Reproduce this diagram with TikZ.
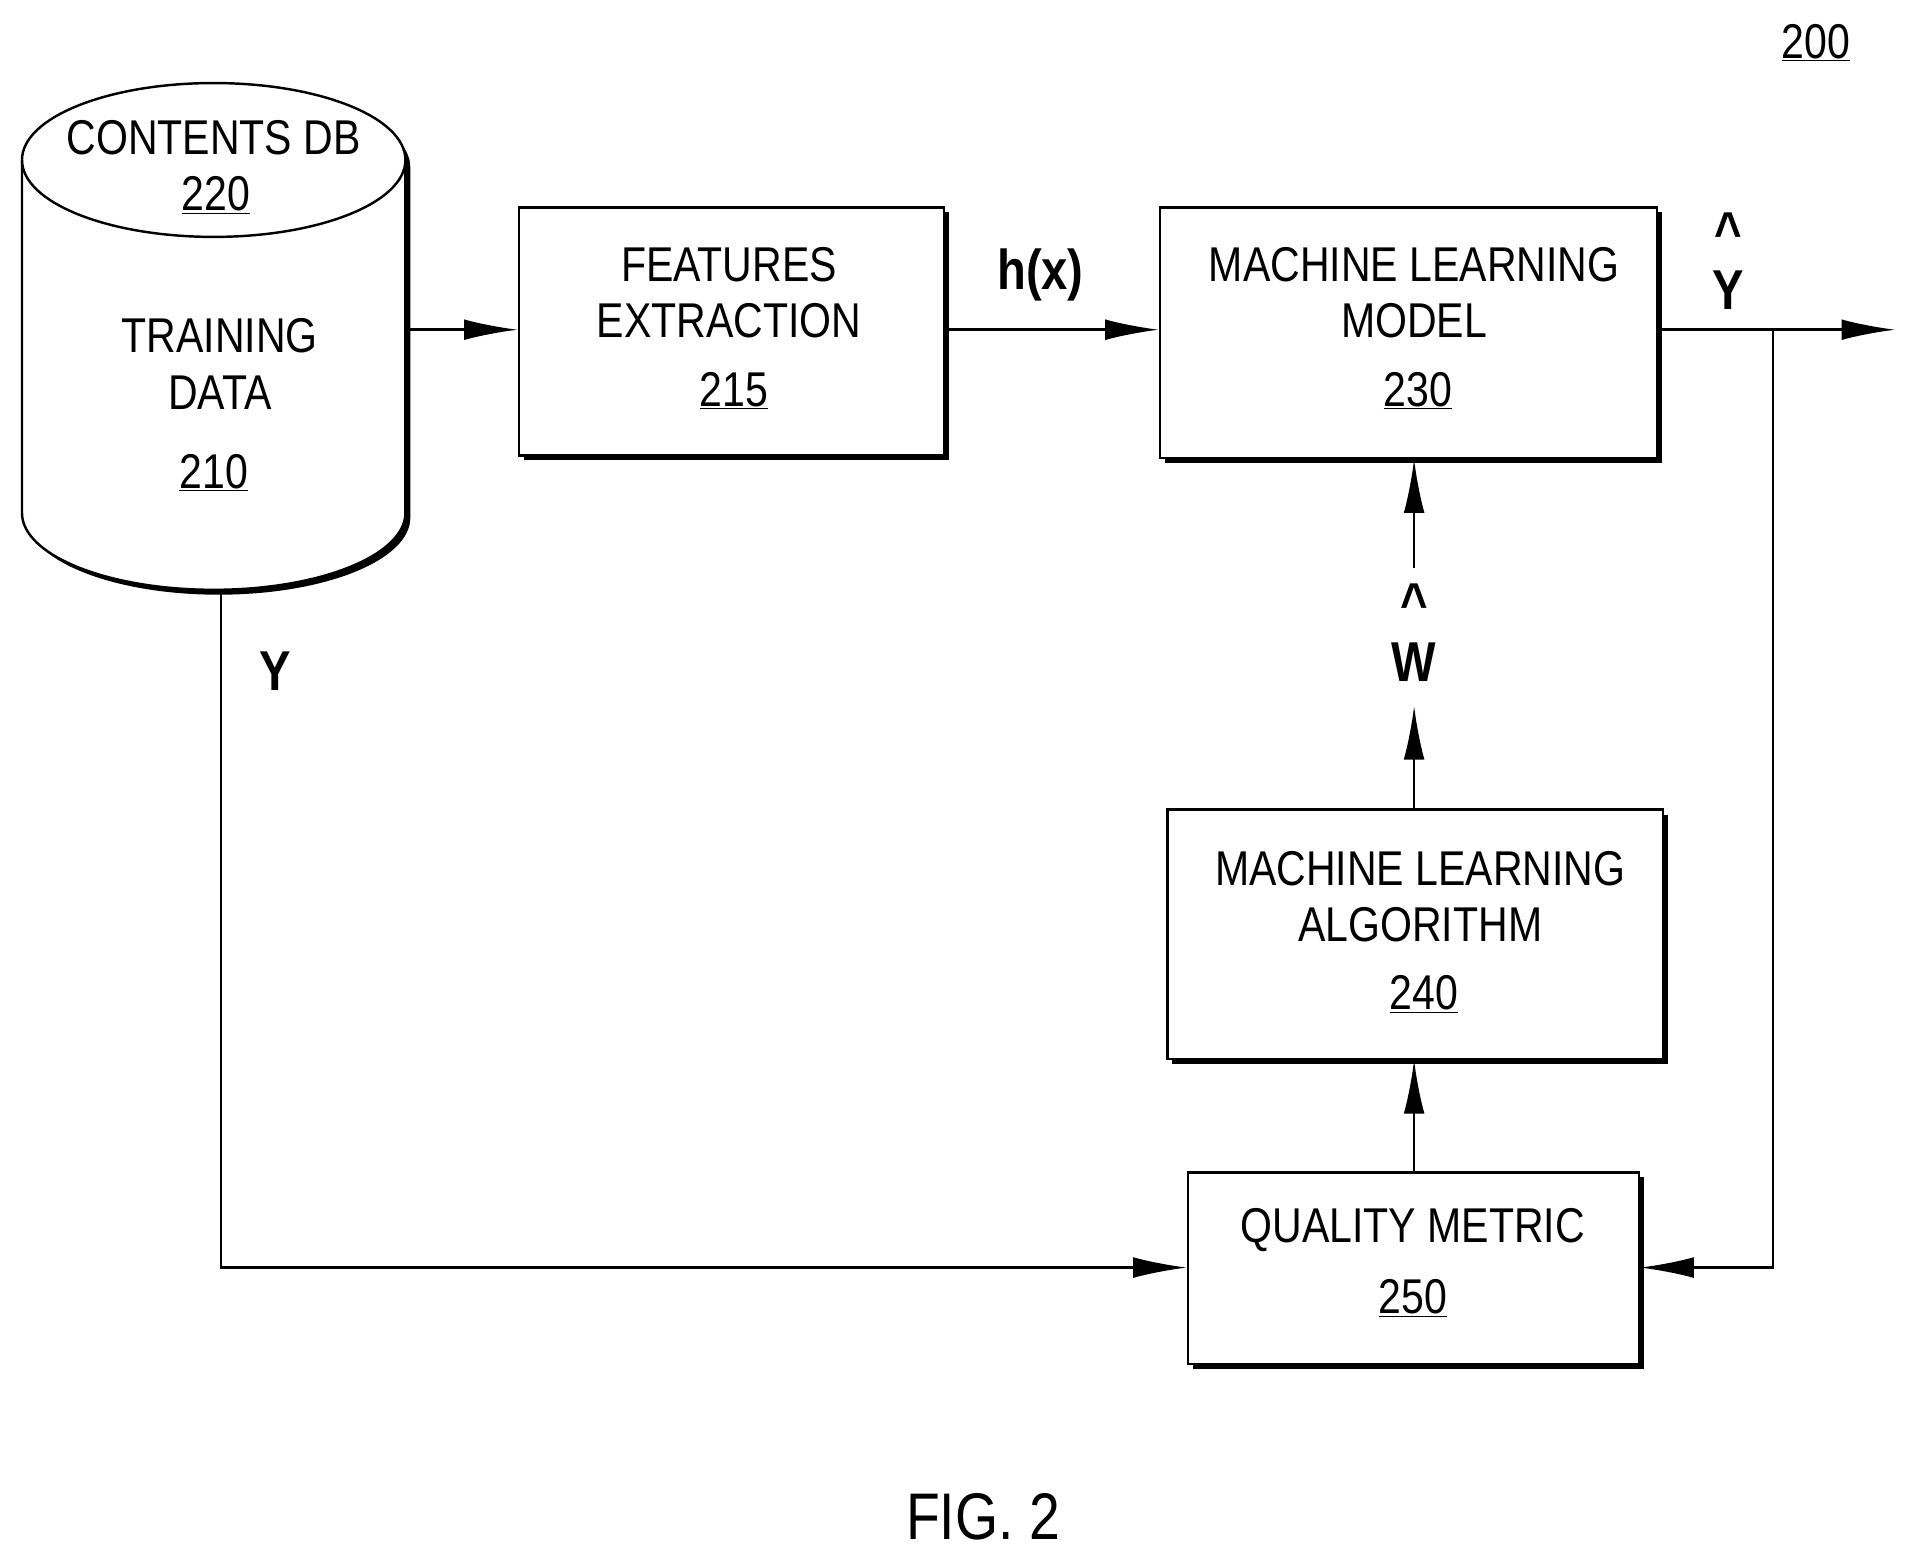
\documentclass[tikz,border=0pt]{standalone}
\usepackage{fontspec}
\setmainfont{Liberation Sans}[FakeStretch=0.84]
\usetikzlibrary{arrows.meta}
\newcommand{\ul}[1]{\underline{#1}}
\begin{document}
\begin{tikzpicture}[x=1pt,y=-1pt,
  txt/.style={font=\fontsize{40}{46}\selectfont,align=center},
  box/.style={draw,line width=2pt,fill=white,inner sep=0pt,
    preaction={fill=black,transform canvas={shift={(4pt,-4pt)}}}},
  arr/.style={line width=2pt,-{Latex[length=44pt,width=17pt]}},
  lab/.style={font=\fontsize{46}{50}\selectfont\bfseries,inner sep=1pt}]
\useasboundingbox (0,0) rectangle (1560,1273);
% cylinder
\fill[black] (22,137) -- (22,424) arc[start angle=180,end angle=0,x radius=157,y radius=63] -- (336,137) arc[start angle=360,end angle=180,x radius=157,y radius=63] -- cycle;
\filldraw[fill=white,line width=2pt] (18,131) -- (18,420) arc[start angle=180,end angle=0,x radius=157,y radius=63] -- (332,131) arc[start angle=360,end angle=180,x radius=157,y radius=63] -- cycle;
\draw[line width=2pt] (18,131) arc[start angle=180,end angle=0,x radius=157,y radius=63];
\node[txt] (cdb) at (175,113) {CONTENTS DB};
\node[txt] (n220) at (177,160) {\ul{220}};
\node[txt] (td) at (180,298) {TRAINING\\DATA};
\node[txt] (n210) at (175,387) {\ul{210}};
\coordinate (cylR) at (335,270);
\coordinate (cylB) at (181,485);
% boxes
\node[box,minimum width=348pt,minimum height=203pt] (b215) at (599,271.5) {};
\node[txt] at (597,240) {FEATURES\\EXTRACTION};
\node[txt] at (601,320) {\ul{215}};
\node[box,minimum width=407pt,minimum height=205pt] (b230) at (1153.5,272.5) {};
\node[txt] at (1158,240) {MACHINE LEARNING\\MODEL};
\node[txt] at (1161,320) {\ul{230}};
\node[box,minimum width=406pt,minimum height=204pt] (b240) at (1159,765) {};
\node[txt] at (1163,734) {MACHINE LEARNING\\ALGORITHM};
\node[txt] at (1166,814) {\ul{240}};
\node[box,minimum width=369pt,minimum height=157pt] (b250) at (1157.5,1038.5) {};
\node[txt] at (1157,1007) {QUALITY METRIC};
\node[txt] at (1157,1063) {\ul{250}};
% labels
\node[txt] (n200) at (1487,35) {\ul{200}};
\node[font=\fontsize{54}{60}\selectfont] (fig) at (805,1242) {FIG. 2};
\node[lab] (hx) at (852,225) {h(x)};
\node[lab] (yhat) at (1415,238) {Y};
\node[lab] (yhatc) at (1415,190) {\^{}};
\node[lab] (what) at (1158,542) {W};
\node[lab] (whatc) at (1158,494) {\^{}};
\node[lab] (y) at (225,550) {Y};
\coordinate (out) at (1552,270);
\coordinate (br) at (1452,270);
\coordinate (brd) at (1452,1038);
\coordinate (yc) at (181,1038);
% connectors
\draw[arr] (cylR) -- (b215.west |- cylR);
\draw[arr] (b215.east |- cylR) -- (b230.west |- cylR);
\draw[arr] (b230.east |- out) -- (out);
\draw[arr] (br) -- (brd) -- (b250.east |- brd);
\draw[arr] (cylB) -- (yc) -- (b250.west |- yc);
\draw[arr] (b250.north -| 1158,0) -- (b240.south -| 1158,0);
\draw[arr] (b240.north -| 1158,0) -- (1158,578);
\draw[arr] (1158,465) -- (b230.south -| 1158,0);
\end{tikzpicture}
\end{document}
